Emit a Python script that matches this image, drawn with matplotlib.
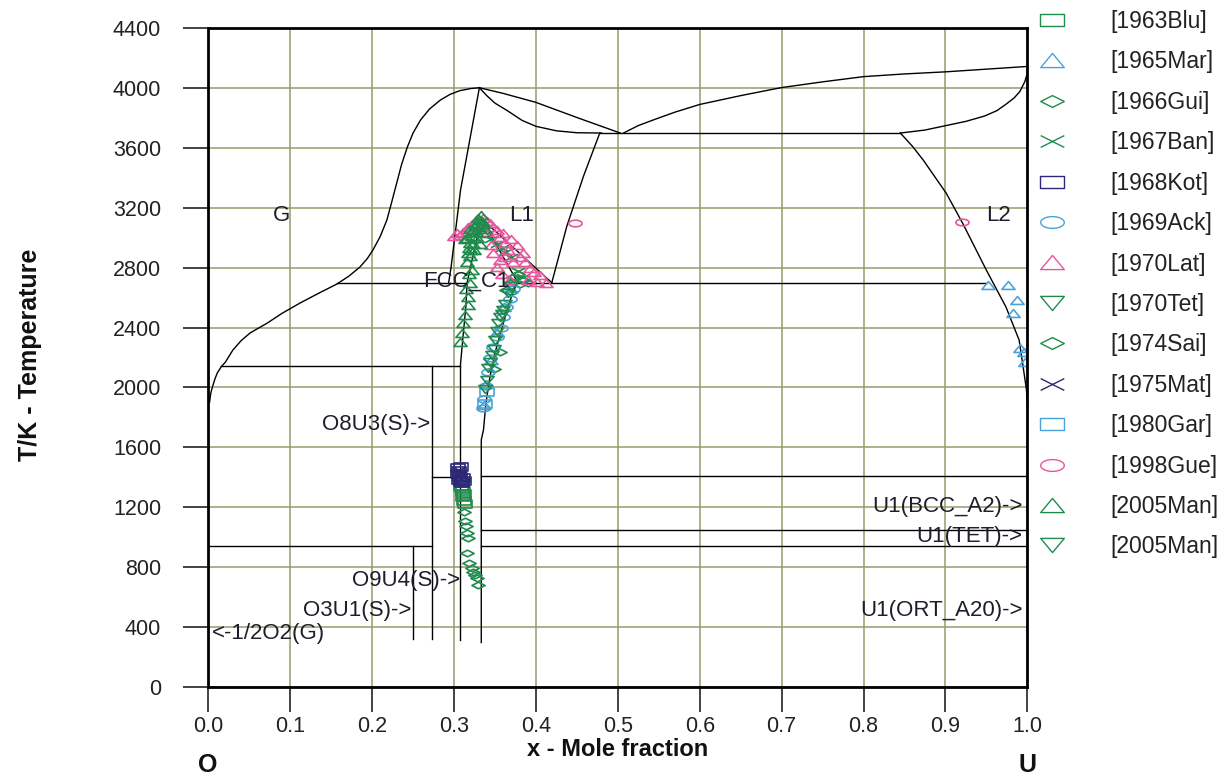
import numpy as np
import matplotlib
matplotlib.use("Agg")
import matplotlib.pyplot as plt
from matplotlib.path import Path
from matplotlib.lines import Line2D

plt.rcParams['font.family'] = ['Liberation Sans', 'DejaVu Sans']

# ---- calculated phase boundaries (x = mole fraction U, T in K) ----
gas_left_x = [0.0015, 0.003, 0.005, 0.008, 0.011, 0.016, 0.021, 0.030, 0.040, 0.051,
              0.072, 0.090, 0.112, 0.135, 0.157, 0.172, 0.185, 0.194, 0.201, 0.210,
              0.218, 0.224, 0.230, 0.236, 0.243, 0.250, 0.259, 0.270, 0.283, 0.295,
              0.307, 0.320, 0.331]
gas_left_t = [1900, 1960, 2003, 2055, 2097, 2140, 2170, 2250, 2312, 2364,
              2430, 2495, 2564, 2630, 2691, 2745, 2804, 2860, 2918, 3010,
              3118, 3240, 3365, 3490, 3606, 3700, 3786, 3860, 3919, 3958,
              3983, 3997, 4003]

l1_left_x = [0.2935, 0.2965, 0.308, 0.331]
l1_left_t = [2700, 2807, 3320, 4003]

fcc_left_x = [0.3077, 0.3110, 0.3145, 0.3160, 0.3333]
fcc_left_t = [2140, 2340, 2540, 2700, 3130]

fcc_right_x = [0.3333, 0.3333, 0.336, 0.339, 0.344, 0.350, 0.358, 0.366, 0.373, 0.378]
fcc_right_t = [295, 1650, 1717, 1896, 2074, 2230, 2386, 2541, 2652, 2700]

solidus_r_x = [0.3333, 0.378]
solidus_r_t = [3130, 2700]

liq_right_x = [0.3333, 0.4194]
liq_right_t = [3130, 2700]

l1_right_x = [0.4194, 0.4377, 0.458, 0.478]
l1_right_t = [2700, 3076, 3410, 3700]

top_a_x = [0.331, 0.340, 0.350, 0.365, 0.383, 0.400, 0.425, 0.450, 0.480]
top_a_t = [4003, 3950, 3900, 3850, 3785, 3745, 3715, 3702, 3700]
top_b_x = [0.331, 0.360, 0.400, 0.452, 0.503]
top_b_t = [4003, 3965, 3905, 3800, 3700]

gas_right_x = [0.507, 0.525, 0.5456, 0.570, 0.600, 0.650, 0.700, 0.750, 0.800, 0.850,
               0.900, 0.950, 1.000]
gas_right_t = [3700, 3750, 3792, 3840, 3891, 3950, 4004, 4042, 4077, 4095,
               4109, 4127, 4145]

l2_gas_x = [0.845, 0.875, 0.900, 0.925, 0.948, 0.963, 0.9736, 0.984, 0.991, 0.997, 1.000]
l2_gas_t = [3700, 3720, 3749, 3778, 3814, 3850, 3891, 3935, 3978, 4044, 4100]

l2_liq_x = [0.845, 0.860, 0.873, 0.901, 0.921, 0.950, 0.974, 0.990, 0.996, 0.999, 1.000]
l2_liq_t = [3700, 3610, 3519, 3298, 3098, 2784, 2537, 2317, 2097, 1983, 1900]

# horizontal invariants: (T, x_start, x_end)
hlines = [(3700, 0.478, 0.845), (2700, 0.157, 0.316), (2700, 0.378, 0.950),
          (2140, 0.016, 0.3077), (1400, 0.2727, 0.3077), (941, 0.0, 0.2727),
          (1410, 0.3333, 1.0), (1049, 0.3333, 1.0), (941, 0.3333, 1.0)]
# vertical compound lines: (x, T_low, T_high)
vlines = [(0.2500, 320, 941), (0.2727, 320, 2140), (0.3077, 310, 2140)]

# ---- experimental data ----
blu63_x = [0.309, 0.311, 0.312, 0.311, 0.312, 0.313, 0.310]
blu63_t = [1340, 1310, 1290, 1265, 1240, 1220, 1325]

mar65_x = [0.952, 0.977, 0.987, 0.982, 0.991, 0.996, 0.997,
           0.361, 0.353, 0.345, 0.339, 0.337]
mar65_t = [2685, 2685, 2584, 2495, 2261, 2239, 2172,
           2540, 2370, 2180, 2020, 1880]

gui66_x = [0.372, 0.378, 0.384, 0.390, 0.368, 0.380, 0.364, 0.370, 0.356, 0.349]
gui66_t = [2740, 2760, 2720, 2700, 2700, 2690, 2650, 2640, 2240, 2120]

ban67_x = [0.345, 0.352, 0.358, 0.362, 0.370, 0.378, 0.384, 0.374]
ban67_t = [2990, 2960, 2930, 2905, 2870, 2780, 2740, 2720]

kot68_x = [0.305, 0.306, 0.305, 0.307, 0.306, 0.309, 0.310, 0.308, 0.311, 0.312]
kot68_t = [1460, 1440, 1420, 1400, 1380, 1370, 1360, 1470, 1395, 1375]

ack69_x = [0.372, 0.368, 0.364, 0.360, 0.357, 0.352, 0.348, 0.344, 0.341, 0.339, 0.337, 0.336]
ack69_t = [2660, 2590, 2540, 2470, 2400, 2340, 2270, 2200, 2100, 2010, 1920, 1860]

lat70_x = [0.300, 0.304, 0.3073, 0.3114, 0.3155, 0.3175, 0.322, 0.327, 0.336, 0.340,
           0.344, 0.348, 0.352, 0.356, 0.360, 0.362, 0.366, 0.370, 0.3766, 0.380,
           0.384, 0.387, 0.393, 0.398, 0.405, 0.401, 0.3684, 0.356, 0.348, 0.352,
           0.362, 0.345, 0.340, 0.358, 0.372, 0.390, 0.412]
lat70_t = [3010, 3030, 3017, 3040, 3060, 3074, 3095, 3120, 3130, 3110,
           3097, 3075, 3052, 3007, 3030, 2963, 2918, 2990, 2952, 2874,
           2900, 2840, 2796, 2770, 2751, 2706, 2718, 2851, 2896, 2807,
           2870, 2950, 3040, 2760, 2840, 2720, 2700]

tet70_x = [0.366, 0.362, 0.360, 0.356, 0.354, 0.350, 0.346, 0.342, 0.340, 0.344, 0.352, 0.369]
tet70_t = [2629, 2560, 2517, 2470, 2429, 2317, 2217, 2128, 2050, 2170, 2380, 2680]

sai74_x = [0.3147, 0.3155, 0.3175, 0.3163, 0.3187, 0.3216, 0.3236, 0.3256, 0.3277, 0.3297, 0.312, 0.313]
sai74_t = [1074, 1025, 992, 891, 825, 791, 769, 746, 724, 680, 1170, 1110]

mat75_x = [0.307, 0.309, 0.306]
mat75_t = [1420, 1385, 1445]

gar80_x = [0.340, 0.338]
gar80_t = [1970, 1890]

gue98_x = [0.4477, 0.920]
gue98_t = [3101, 3108]

man05a_x = [0.3326, 0.331, 0.329, 0.3277, 0.326, 0.3236, 0.322, 0.3195, 0.318, 0.3175,
            0.3216, 0.3195, 0.3175, 0.3175, 0.3134, 0.3114, 0.3094, 0.3073, 0.334, 0.330,
            0.327, 0.325, 0.323, 0.320, 0.316, 0.321, 0.318, 0.315, 0.328, 0.324,
            0.319, 0.3155, 0.3135, 0.336, 0.338, 0.335, 0.332]
man05a_t = [3150, 3120, 3130, 3100, 3080, 3050, 3010, 2965, 2930, 2898,
            2785, 2698, 2606, 2551, 2484, 2429, 2362, 2306, 3110, 3070,
            3040, 3000, 2960, 2880, 2840, 2920, 2760, 2660, 3000, 2920,
            3060, 3000, 2990, 3090, 3060, 3030, 2960]

man05b_x = [0.358, 0.349, 0.338]
man05b_t = [2490, 2260, 1990]

labels = ["[1963Blu]", "[1965Mar]", "[1966Gui]", "[1967Ban]", "[1968Kot]", "[1969Ack]",
          "[1970Lat]", "[1970Tet]", "[1974Sai]", "[1975Mat]", "[1980Gar]", "[1998Gue]",
          "[2005Man]", "[2005Man]"]

GREEN = '#1f8c4e'
BLUE = '#4aa3d8'
PINK = '#e8559e'
NAVY = '#2c2878'


def make_markers():
    rect = Path([(-1, -0.55), (1, -0.55), (1, 0.55), (-1, 0.55), (-1, -0.55)],
                [1, 2, 2, 2, 79])
    tri_up = Path([(-1, -0.6), (1, -0.6), (0, 0.6), (-1, -0.6)], [1, 2, 2, 79])
    tri_dn = Path([(-1, 0.6), (1, 0.6), (0, -0.6), (-1, 0.6)], [1, 2, 2, 79])
    diam = Path([(-1, 0), (0, -0.5), (1, 0), (0, 0.5), (-1, 0)], [1, 2, 2, 2, 79])
    th = np.linspace(0, 2 * np.pi, 40)
    ell = Path(np.column_stack([np.cos(th), 0.5 * np.sin(th)]))
    cross = Path([(-1, -0.5), (1, 0.5), (-1, 0.5), (1, -0.5)], [1, 2, 1, 2])
    return rect, tri_up, tri_dn, diam, ell, cross


rect, tri_up, tri_dn, diam, ell, cross = make_markers()

series = [
    (blu63_x, blu63_t, rect, GREEN),
    (mar65_x, mar65_t, tri_up, BLUE),
    (gui66_x, gui66_t, diam, GREEN),
    (ban67_x, ban67_t, cross, GREEN),
    (kot68_x, kot68_t, rect, NAVY),
    (ack69_x, ack69_t, ell, BLUE),
    (lat70_x, lat70_t, tri_up, PINK),
    (tet70_x, tet70_t, tri_dn, GREEN),
    (sai74_x, sai74_t, diam, GREEN),
    (mat75_x, mat75_t, cross, NAVY),
    (gar80_x, gar80_t, rect, BLUE),
    (gue98_x, gue98_t, ell, PINK),
    (man05a_x, man05a_t, tri_up, GREEN),
    (man05b_x, man05b_t, tri_dn, GREEN),
]

fig = plt.figure(figsize=(12.21, 7.78), dpi=100)
ax = fig.add_axes([208.3 / 1221, 1 - 686.7 / 778, 819 / 1221, 658.4 / 778])

ax.set_xlim(0, 1)
ax.set_ylim(0, 4400)
ax.set_xticks(np.arange(0, 1.01, 0.1))
ax.set_xticklabels(["%.1f" % v for v in np.arange(0, 1.01, 0.1)])
ax.set_yticks(np.arange(0, 4401, 400))
ax.grid(True, color='#9a9a6c', lw=1.1)
ax.set_axisbelow(True)
ax.tick_params(direction='out', length=18, width=1.2, labelsize=15.5, colors='#222222')
ax.tick_params(axis='y', pad=16)
ax.tick_params(axis='x', pad=3)
for s in ax.spines.values():
    s.set_linewidth(2.0)
    s.set_zorder(5)

lw = 1.0
for xs, ts in [(gas_left_x, gas_left_t), (l1_left_x, l1_left_t), (fcc_left_x, fcc_left_t),
               (fcc_right_x, fcc_right_t), (solidus_r_x, solidus_r_t), (liq_right_x, liq_right_t),
               (l1_right_x, l1_right_t), (top_a_x, top_a_t), (top_b_x, top_b_t),
               (gas_right_x, gas_right_t), (l2_gas_x, l2_gas_t), (l2_liq_x, l2_liq_t)]:
    ax.plot(xs, ts, color='black', lw=lw, zorder=2)
for t, x0, x1 in hlines:
    ax.plot([x0, x1], [t, t], color='black', lw=lw, zorder=2)
for x, t0, t1 in vlines:
    ax.plot([x, x], [t0, t1], color='black', lw=lw, zorder=2)

handles = []
for (xs, ts, mk, col), lab in zip(series, labels):
    ax.plot(xs, ts, ls='none', marker=mk, ms=9.5, mfc='none', mec=col, mew=1.2, zorder=3)
    handles.append(Line2D([], [], ls='none', marker=mk, ms=17, mfc='none', mec=col, mew=1.0, label=lab))

txt = dict(fontsize=16, color='#1e1e2a', zorder=4)
ax.text(0.0896, 3152, "G", ha='center', va='center', **txt)
ax.text(0.3826, 3152, "L1", ha='center', va='center', **txt)
ax.text(0.9646, 3152, "L2", ha='center', va='center', **txt)
ax.text(0.3155, 2713, "FCC_C1", ha='center', va='center', **txt)
ax.text(0.2706, 1749, "O8U3(S)->", ha='right', va='center', **txt)
ax.text(0.3073, 713, "O9U4(S)->", ha='right', va='center', **txt)
ax.text(0.2483, 512, "O3U1(S)->", ha='right', va='center', **txt)
ax.text(0.004, 357, "<-1/2O2(G)", ha='left', va='center', **txt)
ax.text(0.9944, 1203, "U1(BCC_A2)->", ha='right', va='center', **txt)
ax.text(0.9944, 1002, "U1(TET)->", ha='right', va='center', **txt)
ax.text(0.9944, 508, "U1(ORT_A20)->", ha='right', va='center', **txt)

fig.text(618 / 1221, 1 - 750 / 778, "x - Mole fraction", ha='center', va='center',
         fontsize=17, fontweight='bold', color='#111111')
fig.text(30 / 1221, 1 - 355 / 778, "T/K - Temperature", ha='center', va='center',
         rotation=90, fontsize=18, fontweight='bold', color='#111111')
fig.text(208 / 1221, 1 - 777.5 / 778, "O", ha='center', va='bottom', fontsize=18,
         fontweight='bold', color='#111111')
fig.text(1027 / 1221, 1 - 777.5 / 778, "U", ha='center', va='bottom', fontsize=18,
         fontweight='bold', color='#111111')

fig.legend(handles=handles, loc='upper left', bbox_to_anchor=(1036 / 1221, 1 - 10 / 778),
           frameon=False, fontsize=16.5, borderaxespad=0, borderpad=0,
           handlelength=1.4, handletextpad=1.83, labelspacing=0.76, labelcolor='#222222')

fig.savefig("out.png", dpi=100)
